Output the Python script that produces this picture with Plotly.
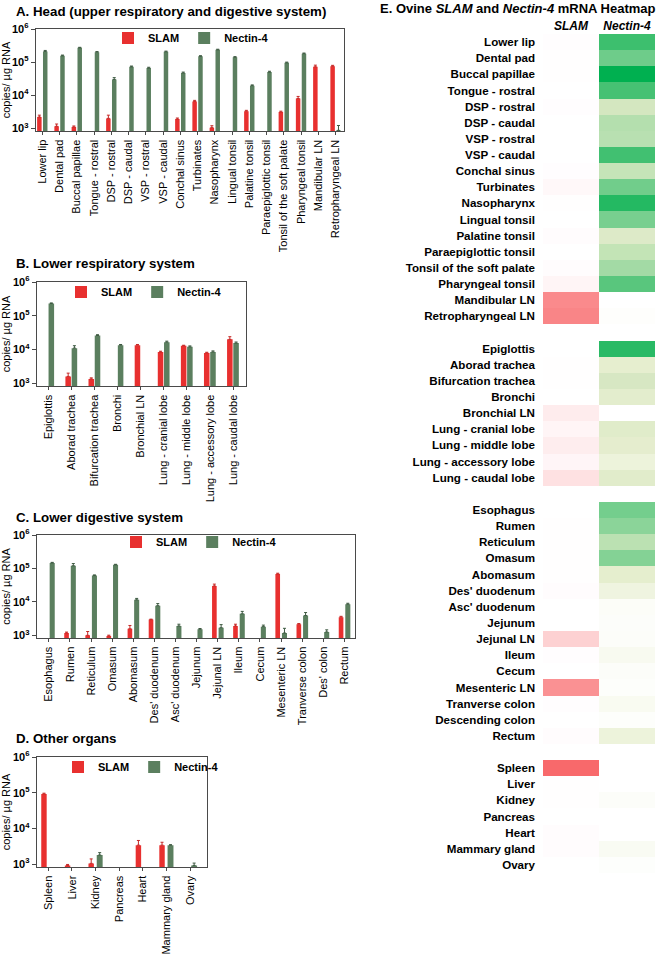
import plotly.graph_objects as go

W, H = 660, 954
FONT = "Liberation Sans, Arial, sans-serif"
RED = "#e8302f"
GREEN = "#5b7f5f"
RED_ERR = "#c42a28"
GREEN_ERR = "#3e5a42"
AXIS = "#4a4a4a"

# ---------------- data ----------------
head_cats = ["Lower lip", "Dental pad", "Buccal papillae", "Tongue - rostral", "DSP - rostral",
             "DSP - caudal", "VSP - rostral", "VSP - caudal", "Conchal sinus", "Turbinates",
             "Nasopharynx", "Lingual tonsil", "Palatine tonsil", "Paraepiglottic tonsil",
             "Tonsil of the soft palate", "Pharyngeal tonsil", "Mandibular LN", "Retropharyngeal LN"]
head_slam = [2200, 1150, 1100, None, 2000, None, None, None, 1900, 6500,
             1050, None, 3300, None, 3100, 8000, 72000, 75000]
head_slam_err = [300, 200, 80, None, 500, None, None, None, 150, 500,
                 150, None, 200, None, 200, 1200, 9000, 5000]
head_nectin = [210000, 155000, 270000, 200000, 30000, 72000, 66000, 205000, 47000, 150000,
               235000, 140000, 19500, 50000, 95000, 180000, None, 870]
head_nectin_err = [15000, 8000, 10000, 8000, 4000, 4000, 4000, 10000, 3000, 6000,
                   10000, 6000, 1000, 3000, 5000, 8000, None, 350]

resp_cats = ["Epiglottis", "Aborad trachea", "Bifurcation trachea", "Bronchi", "Bronchial LN",
             "Lung - cranial lobe", "Lung - middle lobe", "Lung - accessory lobe", "Lung - caudal lobe"]
resp_slam = [None, 1600, 1350, None, 13500, 8400, 12900, 7900, 20000]
resp_slam_err = [None, 400, 100, None, 600, 500, 500, 400, 4000]
resp_nectin = [230000, 11000, 26000, 13500, None, 16500, 12000, 8500, 15500]
resp_nectin_err = [10000, 2000, 1500, 600, None, 1200, 800, 600, 1200]

dig_cats = ["Esophagus", "Rumen", "Reticulum", "Omasum", "Abomasum", "Des' duodenum",
            "Asc' duodenum", "Jejunum", "Jejunal LN", "Ileum", "Cecum", "Mesenteric LN",
            "Tranverse colon", "Des' colon", "Rectum"]
dig_heat_labels = ["Esophagus", "Rumen", "Reticulum", "Omasum", "Abomasum", "Des' duodenum",
                   "Asc' duodenum", "Jejunum", "Jejunal LN", "Ileum", "Cecum", "Mesenteric LN",
                   "Tranverse colon", "Descending colon", "Rectum"]
dig_slam = [None, 1170, 1000, 950, 1570, 2950, None, None, 30000, 1900, None, 68000, 2150, None, 3500]
dig_slam_err = [None, 80, 300, 60, 400, 100, None, None, 4000, 250, None, 4000, 100, None, 200]
dig_nectin = [146000, 120000, 61000, 128000, 11500, 7700, 1900, 1520, 1690, 4400,
              1820, 1170, 3900, 1260, 8500]
dig_nectin_err = [6000, 20000, 3000, 5000, 1200, 1200, 250, 80, 400, 800,
                  200, 450, 900, 200, 600]

other_cats = ["Spleen", "Liver", "Kidney", "Pancreas", "Heart", "Mammary gland", "Ovary"]
other_slam = [92000, 920, 1050, None, 3400, 3400, None]
other_slam_err = [5000, 60, 350, None, 1200, 700, None]
other_nectin = [None, None, 1800, None, None, 3400, 920]
other_nectin_err = [None, None, 300, None, None, 100, 150]

y_tickvals = [1e3, 1e4, 1e5, 1e6]
y_ticktext = ["<b>10<sup>3</sup></b>", "<b>10<sup>4</sup></b>", "<b>10<sup>5</sup></b>", "<b>10<sup>6</sup></b>"]

# ---------------- layout helpers ----------------
def fx(px):
    return px / W

def fy(py):
    return 1 - py / H

panels = [
    dict(cats=head_cats, slam=head_slam, se=head_slam_err, nec=head_nectin, ne=head_nectin_err,
         xpx=(36, 344), ypx=(29, 131), xr=(-0.365, 17.49), leg=(191, 38),
         title="A. Head (upper respiratory and digestive system)", ty=12,
         bars=(-0.30, 0.26, 0.04, 0.26)),
    dict(cats=resp_cats, slam=resp_slam, se=resp_slam_err, nec=resp_nectin, ne=resp_nectin_err,
         xpx=(37, 246), ypx=(282, 386), xr=(-0.49, 8.56), leg=(144, 292),
         title="B. Lower respiratory system", ty=263,
         bars=(-0.26, 0.24, 0.01, 0.24)),
    dict(cats=dig_cats, slam=dig_slam, se=dig_slam_err, nec=dig_nectin, ne=dig_nectin_err,
         xpx=(37, 355), ypx=(535, 638), xr=(-0.56, 14.5), leg=(199, 542),
         title="C. Lower digestive system", ty=517,
         bars=(-0.27, 0.22, 0.04, 0.24)),
    dict(cats=other_cats, slam=other_slam, se=other_slam_err, nec=other_nectin, ne=other_nectin_err,
         xpx=(37, 207), ypx=(757, 867), xr=(-0.48, 6.72), leg=(141, 767),
         title="D. Other organs", ty=738,
         bars=(-0.30, 0.23, 0.05, 0.25)),
]

fig = go.Figure()
layout = dict(
    template="none",
    width=W, height=H, autosize=False, margin=dict(l=0, r=0, t=0, b=0, pad=0, autoexpand=False),
    paper_bgcolor="white", plot_bgcolor="white",
    font=dict(family=FONT, color="black", size=11),
    barmode="overlay", showlegend=True,
)
annotations = []

for i, p in enumerate(panels):
    n = i + 1
    xa = "x" if n == 1 else f"x{n}"
    ya = "y" if n == 1 else f"y{n}"
    lg = "legend" if n == 1 else f"legend{n}"
    zeros = [0] * len(p["cats"])
    ro, rw, go_, gw = p["bars"]
    fig.add_trace(go.Bar(
        x=p["cats"], y=p["slam"], name="SLAM", marker=dict(color=RED, line=dict(width=0)),
        offset=ro, width=rw, xaxis=xa, yaxis=ya, legend=lg,
        error_y=dict(type="data", array=p["se"], arrayminus=zeros, symmetric=False,
                     color=RED_ERR, thickness=1, width=1.5),
    ))
    fig.add_trace(go.Bar(
        x=p["cats"], y=p["nec"], name="Nectin-4", marker=dict(color=GREEN, line=dict(width=0)),
        offset=go_, width=gw, xaxis=xa, yaxis=ya, legend=lg,
        error_y=dict(type="data", array=p["ne"], arrayminus=zeros, symmetric=False,
                     color=GREEN_ERR, thickness=1, width=1.5),
    ))
    x0, x1 = p["xpx"]
    y0, y1 = p["ypx"]
    layout["xaxis" if n == 1 else f"xaxis{n}"] = dict(
        domain=[fx(x0), fx(x1)], anchor=ya, type="category", range=list(p["xr"]),
        automargin=False,
        showline=True, linecolor=AXIS, linewidth=1.3, mirror=True,
        ticks="outside", ticklen=3, tickcolor=AXIS, tickwidth=1,
        tickangle=-90, tickfont=dict(size=11, family=FONT, color="black"),
        showgrid=False, zeroline=False,
    )
    layout["yaxis" if n == 1 else f"yaxis{n}"] = dict(
        domain=[fy(y1), fy(y0)], anchor=xa, type="log", range=[2.92, 6.0],
        automargin=False,
        tickvals=y_tickvals, ticktext=y_ticktext,
        showline=True, linecolor=AXIS, linewidth=1.3, mirror=True,
        ticks="outside", ticklen=4, tickcolor=AXIS, tickwidth=1,
        tickfont=dict(size=11, family=FONT, color="black"),
        showgrid=False, zeroline=False,
        title=dict(text="copies/ µg RNA", font=dict(size=11, family=FONT), standoff=2),
    )
    layout[lg] = dict(
        x=fx(p["leg"][0]), y=fy(p["leg"][1]), xanchor="center", yanchor="middle",
        orientation="h", bgcolor="rgba(0,0,0,0)", itemwidth=30,
        font=dict(size=11, family=FONT, weight="bold", color="black"),
        itemclick=False, itemdoubleclick=False,
    )
    annotations.append(dict(
        text=f"<b>{p['title']}</b>", x=fx(14), y=fy(p["ty"]), xref="paper", yref="paper",
        xanchor="left", yanchor="middle", showarrow=False,
        font=dict(size=13.3, family=FONT, color="black"),
    ))

# ---------------- heatmap ----------------
groups = [
    (head_cats, head_slam, head_nectin),
    (resp_cats, resp_slam, resp_nectin),
    (dig_heat_labels, dig_slam, dig_nectin),
    (other_cats, other_slam, other_nectin),
]
heat_labels, heat_slam, heat_nectin = [], [], []
for gi, (labs, s, nvals) in enumerate(groups):
    if gi > 0:
        heat_labels.append(None)
        heat_slam.append(None)
        heat_nectin.append(None)
    heat_labels += labs
    heat_slam += [v if v is not None else 0 for v in s]
    heat_nectin += [v if v is not None else 0 for v in nvals]

rows = list(range(len(heat_labels)))
slam_max = max(v for v in heat_slam if v is not None)
nectin_max = max(v for v in heat_nectin if v is not None)

red_scale = [[0, "#ffffff"], [0.05, "#fffbfc"], [1, "#f8696b"]]
green_scale = [
    [0.0, "#ffffff"], [0.02, "#f6f9ec"], [0.04, "#e6eecf"], [0.10, "#d6e7c2"],
    [0.18, "#c4e4b7"], [0.27, "#b3dfae"], [0.35, "#a3daa5"], [0.52, "#78cf8f"],
    [0.59, "#6bcb88"], [0.67, "#58c67d"], [0.78, "#3cbf6e"], [0.89, "#1fb860"],
    [1.0, "#00b050"],
]

fig.add_trace(go.Heatmap(
    x=[0], y=rows, z=[[v] for v in heat_slam], colorscale=red_scale,
    zmin=0, zmax=slam_max, showscale=False, xaxis="x5", yaxis="y5", hoverinfo="skip",
))
fig.add_trace(go.Heatmap(
    x=[1], y=rows, z=[[v] for v in heat_nectin], colorscale=green_scale,
    zmin=0, zmax=nectin_max, showscale=False, xaxis="x5", yaxis="y5", hoverinfo="skip",
))

layout["xaxis5"] = dict(
    domain=[fx(543), fx(655)], anchor="y5", range=[-0.5, 1.5], side="top",
    automargin=False,
    tickvals=[0, 1], ticktext=["<i>SLAM</i>", "<i>Nectin-4</i>"],
    tickfont=dict(size=12, family=FONT, weight="bold", color="black"),
    showline=False, showgrid=False, zeroline=False, ticks="", ticklabelstandoff=1,
)
layout["yaxis5"] = dict(
    domain=[fy(873), fy(34)], anchor="x5", range=[len(rows) - 0.5, -0.5],
    automargin=False,
    tickvals=[r for r, l in zip(rows, heat_labels) if l],
    ticktext=[l for l in heat_labels if l],
    tickfont=dict(size=11.6, family=FONT, weight="bold", color="black"),
    showline=False, showgrid=False, zeroline=False, ticks="", ticklabelstandoff=7,
)

annotations.append(dict(
    text="<b>E. Ovine <i>SLAM</i> and <i>Nectin-4</i> mRNA Heatmap</b>",
    x=fx(378), y=fy(9), xref="paper", yref="paper", xanchor="left", yanchor="middle",
    showarrow=False, font=dict(size=13, family=FONT, color="black"),
))
layout["annotations"] = annotations

fig.update_layout(**layout)
fig.write_html(
    "out.html",
    config={"displayModeBar": False, "staticPlot": True},
    post_script="document.body.style.margin='0';document.body.style.padding='0';document.body.style.overflow='hidden';",
)
